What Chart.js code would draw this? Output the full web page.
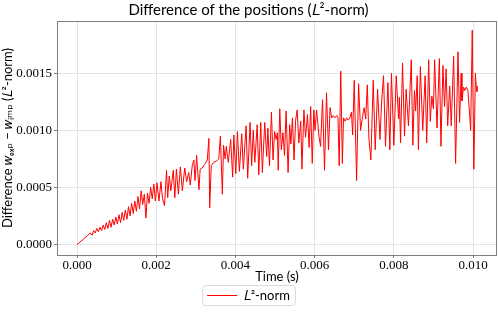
<!DOCTYPE html>
<html>
<head>
<meta charset="utf-8">
<script src="https://cdn.jsdelivr.net/npm/chart.js@4/dist/chart.umd.min.js"></script>
<style>
  body { margin: 0; background: #fff; }
</style>
</head>
<body>
<canvas id="diffChart" width="498" height="312"></canvas>
<script>
// time (s) and L2 difference
var times = [
  0, 0.00005, 0.0001, 0.00015, 0.0002, 0.00025, 0.0003, 0.00034, 0.00038, 0.00042,
  0.00046, 0.0005, 0.00054, 0.00058, 0.00062, 0.00066, 0.0007, 0.00074, 0.00078, 0.00082,
  0.00086, 0.0009, 0.00094, 0.00098, 0.00102, 0.00106, 0.0011, 0.00114, 0.00118, 0.00122,
  0.00126, 0.0013, 0.00134, 0.00138, 0.00142, 0.00146, 0.0015, 0.00154, 0.00158, 0.00162,
  0.00166, 0.0017, 0.00174, 0.00178, 0.00182, 0.00186, 0.0019, 0.00194, 0.00198, 0.00202,
  0.00207, 0.00212, 0.00216, 0.00221, 0.00226, 0.00229, 0.00233, 0.00237, 0.00243, 0.00247,
  0.00251, 0.00256, 0.00261, 0.00266, 0.00272, 0.00277, 0.00282, 0.00286, 0.00291, 0.00295,
  0.00298, 0.00302, 0.00308, 0.00311, 0.00316, 0.00322, 0.00329, 0.00333, 0.00335, 0.00339,
  0.00345, 0.00352, 0.00358, 0.00362, 0.00367, 0.0037, 0.00374, 0.00377, 0.00382, 0.00388,
  0.00393, 0.00396, 0.00401, 0.00405, 0.0041, 0.00416, 0.0042, 0.00427, 0.00431, 0.00437,
  0.00441, 0.00445, 0.00449, 0.00455, 0.00459, 0.00464, 0.00468, 0.00474, 0.00479, 0.00482,
  0.00486, 0.00491, 0.00495, 0.00499, 0.00503, 0.00506, 0.00508, 0.00512, 0.00516, 0.0052,
  0.00524, 0.00528, 0.00533, 0.00537, 0.0054, 0.00544, 0.00548, 0.00552, 0.00556, 0.0056,
  0.00565, 0.00568, 0.00573, 0.00577, 0.00582, 0.00586, 0.0059, 0.00594, 0.00598, 0.00601,
  0.00605, 0.00611, 0.00615, 0.0062, 0.00625, 0.0063, 0.00635, 0.00639, 0.00643, 0.00647,
  0.00651, 0.00656, 0.00659, 0.00662, 0.00666, 0.0067, 0.00673, 0.00677, 0.00681, 0.00685,
  0.00689, 0.00693, 0.00696, 0.007, 0.00706, 0.00711, 0.00716, 0.00721, 0.00725, 0.00729,
  0.00733, 0.00737, 0.00742, 0.00748, 0.00753, 0.00759, 0.00765, 0.00769, 0.00774, 0.00779,
  0.00785, 0.0079, 0.00794, 0.008, 0.00806, 0.00812, 0.00814, 0.00817, 0.00822, 0.00827,
  0.00831, 0.00837, 0.00844, 0.00848, 0.00852, 0.00855, 0.00859, 0.00862, 0.00867, 0.00873,
  0.00879, 0.00883, 0.00888, 0.00892, 0.00896, 0.009, 0.00903, 0.00909, 0.00915, 0.00919,
  0.00924, 0.00928, 0.00932, 0.00936, 0.00941, 0.00945, 0.00951, 0.00956, 0.00962, 0.00966,
  0.0097, 0.00972, 0.00976, 0.00979, 0.00983, 0.00987, 0.00991, 0.00994, 0.00998, 0.01002,
  0.01006, 0.01008, 0.0101
];
var l2diff = [
  0, 0.00001, 0.00003, 0.00004, 0.00006, 0.00007, 0.00009, 0.0001, 0.00008, 0.00012,
  0.0001, 0.00014, 0.00011, 0.00015, 0.00012, 0.00017, 0.00013, 0.00019, 0.00014, 0.00021,
  0.00015, 0.00022, 0.00017, 0.00024, 0.00018, 0.00026, 0.00019, 0.00028, 0.00021, 0.0003,
  0.00022, 0.00033, 0.00025, 0.00036, 0.00027, 0.00038, 0.00029, 0.00042, 0.00031, 0.00047,
  0.00035, 0.00044, 0.00023, 0.00045, 0.00036, 0.0005, 0.0004, 0.00053, 0.00038, 0.00054,
  0.00038, 0.00055, 0.0004, 0.00034, 0.00065, 0.00041, 0.0006, 0.00047, 0.00065, 0.00041,
  0.00066, 0.00044, 0.00068, 0.00047, 0.00067, 0.00055, 0.00063, 0.00052, 0.00069, 0.00074,
  0.00056, 0.00078, 0.00048, 0.00066, 0.00067, 0.0007, 0.00074, 0.00093, 0.00032, 0.00069,
  0.00072, 0.00073, 0.00075, 0.00095, 0.00044, 0.00087, 0.00075, 0.00086, 0.00072, 0.00092,
  0.00059, 0.00096, 0.00062, 0.00099, 0.00064, 0.00097, 0.00066, 0.00104, 0.00058, 0.00107,
  0.00069, 0.001, 0.00072, 0.00105, 0.00061, 0.00107, 0.00063, 0.00107, 0.00077, 0.00102,
  0.00069, 0.00116, 0.00074, 0.00099, 0.00092, 0.00098, 0.00065, 0.00119, 0.00083, 0.00098,
  0.00078, 0.00117, 0.00063, 0.00105, 0.00088, 0.00111, 0.00074, 0.00109, 0.00118, 0.00089,
  0.00108, 0.00066, 0.00118, 0.00094, 0.00114, 0.00085, 0.00121, 0.00071, 0.00118, 0.001,
  0.00118, 0.00095, 0.00086, 0.00127, 0.00065, 0.00133, 0.00083, 0.0012, 0.00111, 0.00113,
  0.00111, 0.00113, 0.00111, 0.00069, 0.00152, 0.00071, 0.00111, 0.00108, 0.00111, 0.00109,
  0.00111, 0.00116, 0.00096, 0.00144, 0.00056, 0.00141, 0.001, 0.00112, 0.0012, 0.0011,
  0.0014, 0.00093, 0.00074, 0.00144, 0.00083, 0.00136, 0.00092, 0.00124, 0.00148, 0.00086,
  0.00142, 0.00083, 0.0015, 0.00087, 0.00148, 0.0011, 0.00129, 0.00089, 0.00159, 0.00095,
  0.00136, 0.00104, 0.00162, 0.00087, 0.00135, 0.00117, 0.00148, 0.00083, 0.00156, 0.001,
  0.00148, 0.00089, 0.00162, 0.00108, 0.0013, 0.00119, 0.00162, 0.00102, 0.00163, 0.00086,
  0.00157, 0.00121, 0.00154, 0.00104, 0.00139, 0.00104, 0.00165, 0.00071, 0.00169, 0.00107,
  0.0015, 0.00126, 0.00138, 0.00135, 0.00138, 0.00135, 0.00116, 0.001, 0.00188, 0.00066,
  0.0015, 0.00139, 0.00134
];
var xTicks = [0, 0.002, 0.004, 0.006, 0.008, 0.010];
var yTicks = [0, 0.0005, 0.0010, 0.0015];

var labelFont = "Lato, 'DejaVu Sans', sans-serif";
var tickFont = "'Liberation Serif', 'DejaVu Serif', serif";

// axes frame + legend box like matplotlib
var framePlugin = {
    id: 'frame',
    afterDraw: function(chart) {
        var c = chart.ctx, a = chart.chartArea;
        c.save();
        c.strokeStyle = '#7f7f7f';
        c.lineWidth = 1;
        c.strokeRect(a.left + 0.5, a.top + 0.5, a.right - a.left - 1, a.bottom - a.top);
        var hb = chart.legend.legendHitBoxes[0];
        if (hb) {
            var x = hb.left - 5, y = hb.top - 4, w = hb.width + 10, h = hb.height + 7;
            c.strokeStyle = '#d9d9d9';
            c.beginPath();
            c.roundRect(x + 0.5, y + 0.5, w, h, 3);
            c.stroke();
        }
        c.restore();
    }
};

var ctx = document.getElementById("diffChart").getContext("2d");
var myChart = new Chart(ctx, {
    type: 'line',
    data: {
        datasets: [{
            label: '𝐿²-norm',
            data: times.map(function(t, i) { return { x: t, y: l2diff[i] }; }),
            borderColor: '#ff0000',
            backgroundColor: '#ff0000',
            borderWidth: 1,
            pointRadius: 0,
            tension: 0,
            fill: false
        }]
    },
    options: {
        responsive: false,
        animation: false,
        layout: { padding: { right: 1, left: 0 } },
        plugins: {
            title: {
                display: true,
                text: 'Difference of the positions (𝐿²-norm)',
                color: '#000',
                font: { family: labelFont, size: 15, weight: 'normal' },
                padding: { top: 1, bottom: 2 }
            },
            legend: {
                position: 'bottom',
                labels: {
                    color: '#000',
                    font: { family: labelFont, size: 13 },
                    usePointStyle: true,
                    pointStyle: 'line',
                    pointStyleWidth: 30,
                    padding: 4
                }
            },
            tooltip: { enabled: false }
        },
        scales: {
            x: {
                type: 'linear',
                min: -0.000505,
                max: 0.010605,
                afterBuildTicks: function(s) { s.ticks = xTicks.map(function(v) { return { value: v }; }); },
                afterFit: function(s) { s.height = 30; },
                ticks: {
                    color: '#000',
                    font: { family: tickFont, size: 13 },
                    padding: 0,
                    maxRotation: 0,
                    callback: function(v) { return v.toFixed(3); }
                },
                grid: { color: '#e3e3e3', tickLength: 3, tickColor: '#7f7f7f' },
                border: { display: false },
                title: {
                    display: true,
                    text: 'Time (s)',
                    color: '#000',
                    font: { family: labelFont, size: 13 },
                    padding: { top: 0, bottom: 0 }
                }
            },
            y: {
                min: -0.0000935,
                max: 0.00196,
                afterBuildTicks: function(s) { s.ticks = yTicks.map(function(v) { return { value: v }; }); },
                afterFit: function(s) { s.width = 57; },
                ticks: {
                    color: '#000',
                    font: { family: tickFont, size: 13 },
                    padding: 2,
                    callback: function(v) { return v.toFixed(4); }
                },
                grid: { color: '#e3e3e3', tickLength: 3, tickColor: '#7f7f7f' },
                border: { display: false },
                title: {
                    display: true,
                    text: 'Difference 𝑤ₑₓₚ − 𝑤ᵢₘₚ (𝐿²-norm)',
                    color: '#000',
                    font: { family: labelFont, size: 13 },
                    padding: { top: 0, bottom: 0 }
                }
            }
        }
    },
    plugins: [framePlugin]
});
</script>
</body>
</html>
